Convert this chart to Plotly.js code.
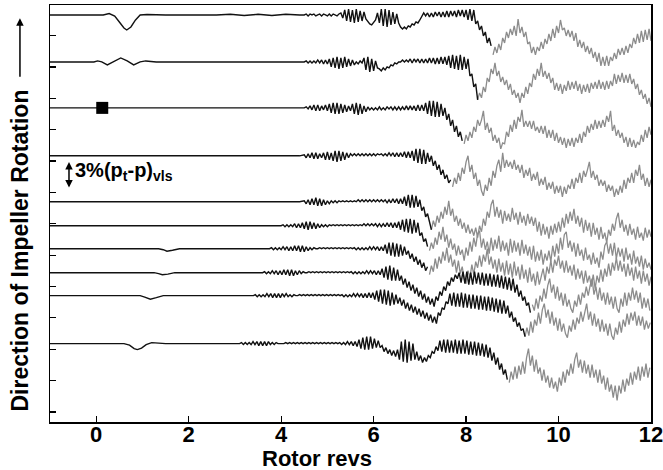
<!DOCTYPE html>
<html><head><meta charset="utf-8">
<script src="https://cdn.plot.ly/plotly-3.0.1.min.js"></script>
<style>html,body{margin:0;padding:0;background:#fff}#c{width:663px;height:470px}</style>
</head><body><div id="c"></div>
<script>
// sample spacing of the dense (oscillating) part of each record, in rotor revs
const STEP = 1/24;
// vertical offset of each stacked record (arbitrary units)
const baseOffsets = [407.5, 360.5, 314.5, 266.5, 220.5, 196.5, 173.5, 149.5, 126.5, 78.5];
// rotor revs where dense sampling starts, and where the black part ends (grey afterwards)
const denseStart = [4.5, 4.5, 4.5, 4.5, 4.5, 4.0, 3.75, 3.6, 3.4, 3.1];
const blackEnd = [8.5833, 8.25, 7.9583, 7.7083, 7.25, 7.2083, 7.2083, 9.3917, 9.275, 8.9333];
// black square marker (rotor revs) on record 3
const markerX = [0.13];
const xTicks = [0, 2, 4, 6, 8, 10, 12];

// early (quiet) part of each record
const e1X = [-1, 0.15, 0.28, 0.4, 0.5, 0.6, 0.66, 0.75, 0.85, 0.95, 1.1, 1.5, 2.6, 2.9, 3.2, 3.5, 3.8, 4.1, 4.4];
const e1Y = [0, 0, 1.5, -1, -7, -13, -15, -12, -5, 0, 0.5, 0, 0, 0.7, -0.5, 0.7, -0.5, 0.7, 0];
const e2X = [-1, -0.05, 0.03, 0.12, 0.24, 0.38, 0.53, 0.67, 0.81, 0.95, 1.07, 1.3, 4.4];
const e2Y = [0, 0, 1, 0, -3, 0, 4, 1, -3, 0, 1, 0, 0];
const e3X = [-1, 4.4];
const e3Y = [0, 0];
const e4X = [-1, 4.4];
const e4Y = [0, 0];
const e5X = [-1, 4.4];
const e5Y = [0, 0];
const e6X = [-1, 3.9];
const e6Y = [0, 0];
const e7X = [-1, 1.35, 1.45, 1.53, 1.65, 1.8, 3.7];
const e7Y = [0, 0, -1, -2.5, -1.5, 0, 0];
const e8X = [-1, 1.25, 1.35, 1.43, 1.55, 1.7, 3.55];
const e8Y = [0, 0, -1, -2, -1.5, 0, 0];
const e9X = [-1, 0.95, 1.05, 1.17, 1.3, 1.45, 3.35];
const e9Y = [0, 0, -1.5, -3.5, -2, 0, 0];
const e10X = [-1, 0.6, 0.72, 0.82, 0.89, 0.98, 1.08, 1.2, 1.35, 1.5, 3.05];
const e10Y = [0, 0, -1.5, -5, -6, -4.5, -1, 1, 0.5, 0, 0];

// dense part of each record
const w1 = [0,1,-1,1,0,1,-1,0,1,-1,1,0,-1,1,-1,1,0,-1,1,
2,-3,5,-6,6,-7,5,-8,6,-7,4,-6,3,
-4,-7,-9,-10,-8,-5,
2,-8,6,-11,6,-12,5,-10,3,-9,1,
-8,-12,-14,-12,-14,-11,-12,-9,-10,-7,-8,-5,
-1,2,-1,2,-2,2,-2,3,-1,3,-2,3,-2,4,-2,4,-1,4,-2,5,-1,5,-2,5,
-5,6,-6,5,
-9,-6,-15,-11,-21,-17,-28,-23,-31,-40,
-32,-38,-29,-35,-23,-28,-17,-23,-14,-20,-11,-21,-4,-18,-12,-22,
-17,-29,-27,-38,-32,-40,
-32,-36,-27,-34,-24,-29,-19,-26,-14,-23,-11,-18,-5,-15,-13,-21,
-15,-22,-16,-26,-18,-32,-25,-33,-27,-37,-31,-39,-33,-43,-37,-47,-38,-51,-42,-51,-41,-51,
-42,-46,-38,-44,-34,-40,-33,-40,-31,-38,-29,-33,-23,-29,-19,-28,-16,-27,-15,-25,-14,-26];
const w2 = [0,1,-1,1,-1,1,-1,2,-1,2,-2,2,-2,
3,-5,4,-6,5,-7,4,-6,5,-5,3,-4,2,-3,
0,-2,1,-1,
4,-8,5,-10,3,-9,1,-6,
-7,-9,-6,-8,-5,-6,-3,-4,-1,-2,0,0,
2,0,2,0,3,-1,3,0,3,-1,3,-1,3,-1,4,-1,4,-2,4,-2,5,-2,5,-3,
6,-6,7,-7,6,-8,7,-8,5,-7,3,
-14,-12,-25,-22,-38,
-31,-36,-25,-30,-16,-20,-7,-12,-1,
-14,-9,-20,-15,
-23,-18,-28,-22,-33,-28,-36,-31,-41,
-31,-36,-25,-32,-21,-25,-12,-18,-7,-14,-1,
-15,-9,-17,-11,-21,
-16,-28,-21,-29,-22,-32,-23,-29,-19,-28,-20,-27,-19,-29,-22,-32,-23,-30,-22,-31,-21,-27,-20,-27,-18,-27,-20,
-28,-19,-27,-19,-24,-12,-22,-13,-20,-11,-21,-13,-21,-12,
-22,-17,-27,-22,-33,-28,-37,-32,-42,-36,-45];
const w3 = [0,1,-1,2,-2,3,-3,3,-3,2,-2,3,-3,
4,-5,5,-6,5,-6,4,-5,3,-4,2,-3,
4,-6,5,-7,4,-6,2,-4,1,-2,
0,-2,0,-2,1,-2,0,-2,1,-1,1,-2,1,-2,1,-2,1,-2,2,-2,2,-2,2,-3,3,-3,3,-3,
5,-6,7,-8,7,-9,6,-9,4,-8,
0,-12,-6,-18,-12,-24,-18,-29,-24,-33,-36,
-27,-33,-24,-30,-19,-24,-12,-18,-12,-3,
-22,-15,-25,-20,-33,-27,-35,-30,-41,-35,
-36,-24,-29,-17,-24,-12,-21,-9,-14,-2,-19,
-13,-19,-13,-21,-13,-23,-19,-25,-18,-26,-18,-30,-22,-30,-22,-33,-25,-35,-29,-37,-30,-40,-31,-38,
-30,-39,-30,-35,-26,-35,-24,-29,-18,-25,-16,-22,-12,-21,-13,-20,-12,-19,-8,-14,-3,
-23,-17,-28,-22,-30,-25,-35,-29,-39,-30,-39,-32,-40,-34,
-37,-27,-34,-22,-30,-19,-27];
const w4 = [1,-2,2,-2,3,-3,3,-3,2,-2,3,-4,4,-4,3,
-5,5,-6,5,-5,4,-4,3,-2,2,
0,2,0,2,0,2,0,2,0,2,0,2,0,2,1,2,0,2,0,3,0,3,-1,3,-1,3,-1,4,-2,4,-2,
5,-5,7,-7,7,-8,6,-8,3,-6,
0,-10,-5,-14,-9,-19,-14,-23,-19,-27,-24,-31,
-22,-28,-17,-25,-12,-18,-6,0,
-16,-9,-23,-17,-30,-24,-35,-40,
-29,-35,-22,-30,-15,-22,-10,-4,-16,3,
-12,-4,-11,-6,-13,
-4,-14,-9,-17,-9,-22,-14,-20,-12,-25,-18,-24,-16,-30,-23,-29,-21,-34,-27,-33,-26,-38,-30,-37,-30,-41,
-31,-38,-29,-33,-23,-33,-22,-27,-17,-27,-15,-21,-14,-6,-22,
-15,-24,-19,-30,-24,-30,-25,-36,-29,-35,-30,-41,-33,-39,
-30,-37,-24,-33,-22,-27,-17,-27,-14,-20,-9,-24,-18,-30,-22,-31,-24];
const w5 = [1,-2,2,-3,3,-3,4,-4,3,-4,2,-3,1,-2,1,
-1,1,-1,1,0,1,0,1,0,1,0,1,0,2,0,2,0,2,0,2,0,2,0,2,0,2,0,2,-1,2,-1,3,-1,3,-2,3,
-2,5,-4,7,-6,7,-6,6,-5,
2,-9,-5,-15,-12,-22,-28,
-19,-25,-14,-21,-10,-17,-5,-13,1,
-14,-7,-20,-14,-24,-17,-27,-21,-31,-23,-32,-27,-34,-26,-36,
-24,-30,-17,-24,-10,-16,-3,2,
-15,-5,-16,-8,-22,-9,-19,-12,-20,-6,-18,-11,-23,-10,-21,-14,-24,-12,-22,-15,
-24,-16,-30,-20,-34,-22,-33,-25,-37,-24,-33,-22,
-31,-20,-30,-16,-26,-12,-22,-10,-19,-7,
-22,-14,-25,-16,-31,-18,-29,-21,-35,-21,-33,-26,-38,-25,-37,-31,-41,
-28,-34,-22,-29,-17,-11,
-26,-18,-30,-23,-34,-22,-33,-27,-38,-25,-36,-31,-39,-26,-36,-28,-35];
const w6 = [0,1,-1,1,-1,1,-1,2,-2,2,-2,
3,-3,4,-4,4,-3,3,-3,2,-2,1,-1,
1,-1,1,0,1,0,1,0,1,0,1,0,1,0,1,0,1,0,1,0,2,0,2,0,2,0,2,-1,2,-1,2,-1,3,-1,3,-2,3,-2,
4,-4,6,-6,7,-7,7,-8,6,-7,3,
-10,-7,-16,-13,-21,-25,
-17,-23,-12,-19,-6,-14,-1,
-16,-9,-22,-13,-24,-18,-30,-20,-29,-24,-35,
-22,-30,-16,-26,-12,-21,-8,-5,
-22,-13,-24,-16,-28,-12,-25,-14,-23,-10,-26,-15,-25,-17,-30,-13,-27,-15,-26,-17,-30,-14,-28,-19,
-30,-21,-34,-20,-36,-26,-35,-24,-39,-28,-35,-25,-36,-20,-31,
-18,-28,-12,-24,-9,-6,
-22,-15,-26,-17,-31,-18,-30,-24,-35,-22,-34,-29,-39,-27,-38,-32,-42,
-26,-34,-20,-16,
-28,-18,-30,-17,-33,-22,-31,-23,-36,-22,-34,-28,-39,-25,-38,-31,-41,-30,-44,-33,-42,-37,-44];
const w7 = [0,1,-1,1,-1,1,-1,2,-1,2,-2,2,-2,3,-2,3,-3,3,-3,2,-2,1,-1,1,0,
0,1,0,1,0,1,0,1,0,1,0,1,0,1,0,1,0,1,0,1,-1,1,-1,1,-1,1,-1,2,-1,2,-1,2,-2,2,-2,
4,-5,6,-7,6,-8,5,-8,4,-7,2,-6,
-2,-10,-5,-13,-8,-16,-11,-19,-14,-22,-18,-26,
-17,-23,-10,-20,-8,-15,-3,-12,1,
-14,-6,-18,-11,-24,-12,-25,-18,-30,-35,
-22,-29,-16,-26,-13,-19,-7,-18,-6,-13,0,
-16,-8,-20,-11,-24,-10,-23,-14,-27,-12,-26,-15,-29,-13,-27,-18,-31,-16,
-30,-21,-34,-19,-33,-25,-37,-23,-36,-28,
-20,-32,-18,-25,-12,-24,-11,-17,-7,
-20,-12,-24,-12,-24,-17,-27,-16,-31,-20,-30,-22,-35,-22,-34,-27,-38,-26,-40,
-27,-34,-21,-33,-20,-28,-15,-27,-14,-22,-9,-22,
-12,-23,-15,-28,-15,-27,-19,-32,-18,-30,-22,-35,-22,-33,-25,-37,-28];
const w8 = [0,1,-1,1,-1,2,-1,2,-2,2,-2,3,-2,3,-3,3,-3,2,-2,2,-1,1,0,
0,1,0,1,0,1,0,1,0,1,0,1,0,1,0,1,0,1,0,1,0,1,0,1,-1,1,-1,1,-1,1,-1,2,-1,2,-1,2,-2,2,-2,
4,-5,6,-7,7,-8,5,-8,3,
-8,-3,-12,-6,-15,-9,-18,-12,-21,-15,-24,-18,-27,-21,-30,-24,-32,-26,-34,
-24,-28,-19,-23,-14,-18,-9,-13,-5,-9,-2,-6,
0,-10,1,-11,1,-12,0,-12,1,-11,0,-12,0,-13,-1,-13,-1,-14,-2,-14,-2,-15,-3,-16,-4,-17,-5,-18,-6,
-20,-12,-24,-18,-28,-24,-33,-30,-40,
-32,-38,-26,-36,-23,-29,-16,-26,-13,-6,
-20,-12,-26,-14,-28,-20,-33,-21,-34,-27,-36,-40,
-28,-34,-22,-32,-20,-25,-14,-23,-13,-6,
-22,-14,-27,-15,-28,-20,-32,-20,-32,-24,-36,-24,-36,-40,
-26,-34,-20,-33,-20,-28,-15,-27,-18,-30,-20,-36,-25,-35,-26,-38];
const w9 = [0,1,-1,1,-1,1,-1,2,-1,2,-2,2,-2,2,-2,2,-1,2,-1,1,-1,1,0,0,
1,0,1,0,1,0,1,0,1,0,1,0,1,0,1,0,1,0,1,0,1,0,1,-1,1,-1,1,-1,2,-1,2,-1,2,-2,2,-2,3,-2,3,
-4,5,-6,6,-8,6,-9,5,-10,3,-9,1,-8,
-2,-10,-4,-13,-7,-15,-9,-17,-11,-19,-13,-21,-15,-23,-17,-25,-19,-27,-21,-28,
-17,-20,-12,-14,-6,-8,
2,-10,3,-11,2,-11,3,-12,2,-12,1,-13,1,-13,0,-14,0,-14,-1,-15,-1,-15,-2,-16,-3,-17,-4,-18,-5,
-18,-10,-22,-16,-26,-22,-31,-27,-35,-33,-41,
-32,-40,-26,-37,-24,-30,-17,-28,-14,-8,
-22,-14,-28,-16,-30,-22,-35,-23,-36,-28,-38,-42,
-30,-36,-24,-34,-22,-28,-16,-26,-15,-8,
-24,-16,-30,-18,-31,-23,-36,-24,-36,-28,-40,-28,-40,-44,
-32,-39,-26,-37,-24,-31,-18,-29,-17,-25,-16,-30,-20,-30,-21,-34,-25,-33,-27];
const w10 = [0,1,-1,1,-1,1,-1,2,-1,2,-2,2,-2,2,-2,2,-1,1,-1,1,0,0,0,
0,1,0,1,0,1,0,1,0,1,0,1,0,1,0,1,0,1,0,1,0,1,0,1,0,1,0,1,0,1,-1,1,-1,2,-1,2,-2,2,
-3,4,-5,6,-6,7,-6,7,-5,5,-4,3,
-4,-2,-8,-4,-10,-6,-12,-7,-13,-6,
-16,2,-18,4,-19,2,-17,0,-16,
-8,-17,-12,-19,-14,-18,-12,-14,
-8,-10,-3,-7,
3,-8,4,-9,4,-9,3,-9,4,-10,3,-10,4,-10,3,-11,2,-11,2,-12,1,-12,0,-13,-1,-14,
-4,-17,-9,-21,-14,-26,-20,-31,-26,-36,-39,
-28,-36,-23,-35,-22,-31,-18,-30,-14,-5,
-22,-12,-28,-16,-30,-24,-37,-26,-39,-32,-44,-34,-45,-38,-48,
-34,-42,-28,-39,-26,-32,-20,-30,-16,-9,
-24,-16,-29,-17,-30,-21,-34,-21,-34,-26,-39,-26,-40,-32,-46,-34,-48,-41,-54,-42,-57,
-42,-50,-36,-48,-35,-42,-29,-41,-28,-36,-23,-37,-23,-33,-20,-34,-24];

const earlyX = [e1X, e2X, e3X, e4X, e5X, e6X, e7X, e8X, e9X, e10X];
const earlyY = [e1Y, e2Y, e3Y, e4Y, e5Y, e6Y, e7Y, e8Y, e9Y, e10Y];
const waves = [w1, w2, w3, w4, w5, w6, w7, w8, w9, w10];

const FONT = '"Liberation Sans", Arial, Helvetica, sans-serif';
const greyTraces = [], blackTraces = [];
for (let k = 0; k < waves.length; k++) {
  const xs = earlyX[k].slice(), ys = earlyY[k].slice();
  waves[k].forEach((v, i) => { xs.push(denseStart[k] + i * STEP); ys.push(v); });
  const bx = [], by = [], gx = [], gy = [];
  xs.forEach((x, i) => {
    const y = baseOffsets[k] + ys[i];
    if (x <= blackEnd[k] + 1e-6) { bx.push(x); by.push(y); }
    if (x >= blackEnd[k] - 1e-6) { gx.push(x); gy.push(y); }
  });
  blackTraces.push({x: bx, y: by, type: 'scatter', mode: 'lines', line: {color: '#111111', width: 1.4}, hoverinfo: 'skip'});
  greyTraces.push({x: gx, y: gy, type: 'scatter', mode: 'lines', line: {color: '#8c8c8c', width: 1.3}, hoverinfo: 'skip'});
}
const markerTrace = {x: markerX, y: markerX.map(() => baseOffsets[2]), type: 'scatter', mode: 'markers',
  marker: {symbol: 'square', size: 12, color: '#000'}, hoverinfo: 'skip'};

const layout = {
  width: 663, height: 470,
  margin: {l: 50, r: 12, t: 5, b: 48},
  paper_bgcolor: '#fff', plot_bgcolor: '#fff',
  showlegend: false,
  xaxis: {range: [-1, 12], tickmode: 'array', tickvals: xTicks, ticktext: xTicks.map(v => '<b>' + v + '</b>'),
    ticks: 'inside', ticklen: 6, tickwidth: 1.2, tickcolor: '#000', ticklabeloverflow: 'allow', ticklabelstandoff: -8,
    showline: true, linewidth: 1.5, linecolor: '#000', mirror: true, showgrid: false, zeroline: false,
    tickfont: {family: FONT, size: 22, color: '#000', weight: 700}},
  yaxis: {range: [0, 417.5], tickmode: 'linear', tick0: 41.5, dtick: 31.4,
    ticks: 'inside', ticklen: 6, tickwidth: 1.2, tickcolor: '#000', showticklabels: false,
    showline: true, linewidth: 1.5, linecolor: '#000', mirror: true, showgrid: false, zeroline: false},
  annotations: [
    {xref: 'paper', yref: 'paper', x: 0.444, y: -0.088, xanchor: 'center', yanchor: 'middle', showarrow: false,
     text: '<b>Rotor revs</b>', font: {family: FONT, size: 22, color: '#000', weight: 700}},
    {xref: 'paper', yref: 'paper', x: -0.05, y: 0.411, xanchor: 'center', yanchor: 'middle', showarrow: false,
     textangle: -90, text: '<b>Direction of Impeller Rotation</b>', font: {family: FONT, size: 23, color: '#000', weight: 700}},
    {xref: 'paper', yref: 'paper', x: -0.05, y: 0.968, ax: 0, ay: 60, text: '', showarrow: true,
     arrowhead: 2, arrowsize: 1, arrowwidth: 1.5, arrowcolor: '#000'},
    {xref: 'paper', yref: 'paper', x: 0.0316, y: 0.6235, ax: 0, ay: 27, text: '', showarrow: true,
     arrowside: 'end+start', arrowhead: 2, arrowsize: 1, arrowwidth: 1.5, arrowcolor: '#000'},
    {xref: 'paper', yref: 'paper', x: 0.038, y: 0.6, xanchor: 'left', yanchor: 'middle', showarrow: false,
     text: '<b>3%(p<sub>t</sub>-p)<sub>vls</sub></b>', font: {family: FONT, size: 20, color: '#000', weight: 700}}
  ]
};
Plotly.newPlot('c', greyTraces.concat(blackTraces, [markerTrace]), layout, {displayModeBar: false, staticPlot: true});
</script>
</body></html>
